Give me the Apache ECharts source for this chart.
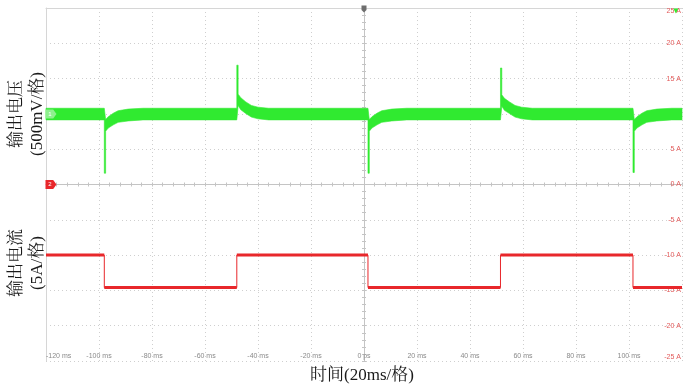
<!DOCTYPE html>
<html><head><meta charset="utf-8">
<script src="https://cdn.jsdelivr.net/npm/echarts@6/dist/echarts.min.js"></script>
<style>html,body{margin:0;padding:0;background:#fff}#c{width:684px;height:390px}</style>
</head><body><div id="c"></div>
<script>
// Output voltage ripple envelope (plotted on the scope's A scale)
const voltTime = [-120,
  -98, -98, -97.5, -97.5, -96.5, -94.6, -92.8, -89, -83.4,
  -48, -48, -47.5, -47.5, -46.5, -44.6, -42.5, -40, -36,
  1.5, 1.5, 2, 2, 3, 4.9, 6.7, 10.5, 16.1,
  51.5, 51.5, 52, 52, 53, 54.9, 57, 59.5, 63.5,
  101.5, 101.5, 102, 102, 103, 104.9, 106.7, 110.5, 116.1,
  120];
const voltUpper = [10.8,
  10.8, 10.8, 9.2, 9.2, 9.6, 10.1, 10.45, 10.68, 10.8,
  10.8, 16.9, 16.9, 12.8, 12.3, 11.7, 11.2, 10.95, 10.8,
  10.8, 10.8, 9.2, 9.2, 9.6, 10.1, 10.45, 10.68, 10.8,
  10.8, 16.5, 16.5, 12.7, 12.2, 11.7, 11.2, 10.95, 10.8,
  10.8, 10.8, 9.2, 9.2, 9.6, 10.1, 10.45, 10.68, 10.8,
  10.8];
const voltLower = [9.15,
  9.15, 1.6, 1.6, 7.55, 8.0, 8.45, 8.8, 9.0, 9.15,
  9.15, 9.15, 11.2, 11.2, 10.6, 10.05, 9.55, 9.3, 9.15,
  9.15, 1.6, 1.6, 7.55, 8.0, 8.45, 8.8, 9.0, 9.15,
  9.15, 9.15, 11.1, 11.1, 10.5, 10.05, 9.55, 9.3, 9.15,
  9.15, 1.7, 1.7, 7.55, 8.0, 8.45, 8.8, 9.0, 9.15,
  9.15];
// Output current steps
const stepTimes = [-98, -48, 1.5, 51.5, 101.5];
const currentLevels = [-10, -14.6, -10, -14.6, -10, -14.6];
const xRange = [-120, 120];
const yRange = [-25, 25];

const currentLine = [[xRange[0], currentLevels[0]]];
const currentThick = [[xRange[0], currentLevels[0]]];
stepTimes.forEach((t, i) => {
  currentLine.push([t, currentLevels[i]], [t, currentLevels[i + 1]]);
  currentThick.push([t, currentLevels[i]], [t, '-'], [t, currentLevels[i + 1]]);
});
currentLine.push([xRange[1], currentLevels[currentLevels.length - 1]]);
currentThick.push([xRange[1], currentLevels[currentLevels.length - 1]]);

const voltData = voltTime.map((t, i) => [t, voltUpper[i], voltLower[i]]);

const GREEN = '#30ea30', RED = '#e8272b';
const gridDash = {color: '#cfcfcf', type: [1, 3], width: 1};
const serif = "'Liberation Serif','Noto Serif CJK SC','Noto Sans CJK SC',serif";

const chart = echarts.init(document.getElementById('c'), null, {renderer: 'canvas'});
chart.setOption({
  animation: false,
  backgroundColor: '#fff',
  grid: {left: 46, right: -2, top: 8, bottom: 29},
  xAxis: [
    {type: 'value', min: xRange[0], max: xRange[1], interval: 20, position: 'bottom',
     axisLine: {show: false, onZero: false}, axisTick: {show: false},
     splitLine: {show: true, lineStyle: gridDash},
     axisLabel: {inside: true, margin: 1, fontSize: 7, color: '#8a8a8a', fontFamily: 'Liberation Sans',
       showMaxLabel: false, alignMinLabel: 'left',
       formatter: v => v === 0 ? '0 ps' : v + ' ms'}},
    {type: 'value', min: xRange[0], max: xRange[1], position: 'top',
     axisLine: {show: true, onZero: false, lineStyle: {color: '#d6d6d6'}},
     axisTick: {show: false}, axisLabel: {show: false}, splitLine: {show: false}},
    {type: 'value', min: xRange[0], max: xRange[1], interval: 4, position: 'bottom',
     axisLine: {show: true, onZero: true, onZeroAxisIndex: 0, lineStyle: {color: '#c4c4c4'}},
     axisTick: {show: true, length: 2, lineStyle: {color: '#c4c4c4'}}, axisLabel: {show: false}, splitLine: {show: false}},
    {type: 'value', min: xRange[0], max: xRange[1], interval: 4, position: 'bottom',
     axisLine: {show: false, onZero: true, onZeroAxisIndex: 0},
     axisTick: {show: true, inside: true, length: 2, lineStyle: {color: '#c4c4c4'}}, axisLabel: {show: false}, splitLine: {show: false}}
  ],
  yAxis: [
    {type: 'value', min: yRange[0], max: yRange[1], interval: 5, position: 'right',
     axisLine: {show: false, onZero: false}, axisTick: {show: false},
     splitLine: {show: true, lineStyle: gridDash},
     axisLabel: {inside: true, margin: 1, fontSize: 7, color: '#e25a5a', fontFamily: 'Liberation Sans',
       verticalAlignMaxLabel: 'top', verticalAlignMinLabel: 'bottom',
       formatter: v => v + ' A'}},
    {type: 'value', min: yRange[0], max: yRange[1], position: 'left',
     axisLine: {show: true, onZero: false, lineStyle: {color: '#d6d6d6'}},
     axisTick: {show: false}, axisLabel: {show: false}, splitLine: {show: false}},
    {type: 'value', min: yRange[0], max: yRange[1], interval: 1, position: 'left',
     axisLine: {show: true, onZero: true, onZeroAxisIndex: 0, lineStyle: {color: '#c4c4c4'}},
     axisTick: {show: true, length: 2, lineStyle: {color: '#c4c4c4'}}, axisLabel: {show: false}, splitLine: {show: false}},
    {type: 'value', min: yRange[0], max: yRange[1], interval: 1, position: 'left',
     axisLine: {show: false, onZero: true, onZeroAxisIndex: 0},
     axisTick: {show: true, inside: true, length: 2, lineStyle: {color: '#c4c4c4'}}, axisLabel: {show: false}, splitLine: {show: false}}
  ],
  series: [
    {type: 'custom', name: '输出电压', xAxisIndex: 0, yAxisIndex: 0, data: voltData,
     encode: {x: 0, y: [1, 2]},
     renderItem: function (params, api) {
       if (params.dataIndex !== 0) return null;
       const pts = [];
       for (let i = 0; i < voltData.length; i++) pts.push(api.coord([voltData[i][0], voltData[i][1]]));
       for (let i = voltData.length - 1; i >= 0; i--) pts.push(api.coord([voltData[i][0], voltData[i][2]]));
       return {type: 'polygon', shape: {points: pts}, style: {fill: GREEN, stroke: GREEN, lineWidth: 0.6}};
     }},
    {type: 'line', name: '输出电流', xAxisIndex: 0, yAxisIndex: 0, data: currentLine,
     symbol: 'none', lineStyle: {color: RED, width: 1}, z: 3,
     markPoint: {
       silent: true,
       data: [
         {coord: [xRange[0], 10], symbol: 'path://M0,0 L7,0 L10,5 L7,10 L0,10 Z', symbolSize: [11, 9], symbolOffset: [5, 0],
          itemStyle: {color: '#8ef08e'}, label: {show: true, formatter: '1', color: '#fff', fontSize: 6, offset: [-1, 0]}},
         {coord: [xRange[0], 0], symbol: 'path://M0,0 L7,0 L10,5 L7,10 L0,10 Z', symbolSize: [11, 9], symbolOffset: [5, 0],
          itemStyle: {color: RED}, label: {show: true, formatter: '2', color: '#fff', fontSize: 6, offset: [-1, 0]}},
         {coord: [0, yRange[1]], symbol: 'path://M0,0 L6,0 L6,5 L3,8 L0,5 Z', symbolSize: [5, 7], symbolOffset: [0, 1],
          itemStyle: {color: '#6e6e6e'}, label: {show: false}},
         {coord: [117.7, yRange[1]], symbol: 'path://M0,0 L8,0 L4,7 Z', symbolSize: [5, 5], symbolOffset: [0, 3],
          itemStyle: {color: GREEN}, label: {show: false}}
       ]
     }},
    {type: 'line', name: '输出电流粗', xAxisIndex: 0, yAxisIndex: 0, data: currentThick,
     symbol: 'none', connectNulls: false, lineStyle: {color: RED, width: 3}, z: 3}
  ],
  graphic: [
    {type: 'text', x: 27, y: 114, rotation: Math.PI / 2,
     style: {text: '输出电压\n(500mV/格)', fontSize: 17, fontFamily: serif, fill: '#1a1a1a',
       align: 'center', verticalAlign: 'middle', textAlign: 'center', textVerticalAlign: 'middle', lineHeight: 21}},
    {type: 'text', x: 27, y: 263, rotation: Math.PI / 2,
     style: {text: '输出电流\n(5A/格)', fontSize: 17, fontFamily: serif, fill: '#1a1a1a',
       align: 'center', verticalAlign: 'middle', textAlign: 'center', textVerticalAlign: 'middle', lineHeight: 21}},
    {type: 'text', x: 362, y: 376,
     style: {text: '时间(20ms/格)', fontSize: 17, fontFamily: serif, fill: '#1a1a1a',
       align: 'center', verticalAlign: 'middle', textAlign: 'center', textVerticalAlign: 'middle'}}
  ]
});
</script></body></html>
